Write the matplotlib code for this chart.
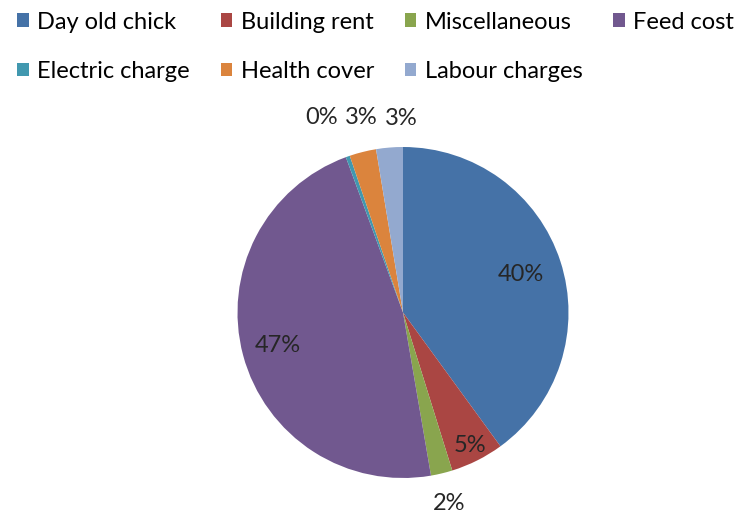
import matplotlib.pyplot as plt
import numpy as np

plt.rcParams['font.family'] = ['Lato', 'DejaVu Sans']

# udziały kosztów (%)
labels = ['Day old chick', 'Building rent', 'Miscellaneous', 'Feed cost',
          'Electric charge', 'Health cover', 'Labour charges']
values = [39.9, 5.2, 2.1, 47.0, 0.4, 2.6, 2.6]
colors = ['#4572A7', '#AA4643', '#89A54E', '#71588F', '#4198AF', '#DB843D', '#93A9CF']

W, H = 741, 518
cx, cy, r = 403, 312.5, 165.5

fig = plt.figure(figsize=(W / 100, H / 100), dpi=100)
ax = fig.add_axes([(cx - r) / W, (H - cy - r) / H, 2 * r / W, 2 * r / H])

wedges, texts = ax.pie(values, colors=colors, startangle=90, counterclock=False,
                       wedgeprops=dict(linewidth=0))[:2]
ax.set_xlim(-1, 1)
ax.set_ylim(-1, 1)
ax.set_aspect('equal')
ax.axis('off')

# etykiety procentowe
pct = [f'{v / sum(values) * 100:.0f}%' for v in values]
dist = [0.75, 0.9, 1.19, 0.78, None, None, None]
for w, p, d in zip(wedges, pct, dist):
    if d is None:
        continue
    ang = np.deg2rad((w.theta1 + w.theta2) / 2)
    ax.text(d * np.cos(ang), d * np.sin(ang), p, ha='center', va='center',
            fontsize=17, color='#262626')

# małe wycinki u góry - etykiety rozsunięte
top = [(-0.49, 1.18), (-0.25, 1.18), (-0.01, 1.17)]
for (x, y), p in zip(top, pct[4:]):
    ax.text(x, y, p, ha='center', va='center', fontsize=17, color='#262626')

order = [0, 4, 1, 5, 2, 6, 3]
fig.legend([wedges[i] for i in order], [labels[i] for i in order],
           loc='upper left', bbox_to_anchor=(0.004, 1.005), ncol=4, frameon=False,
           fontsize=17, handlelength=0.5, handleheight=0.5, handletextpad=0.35,
           columnspacing=1.3, labelspacing=1.2, borderaxespad=0.2)

fig.savefig('out.png', dpi=100)
